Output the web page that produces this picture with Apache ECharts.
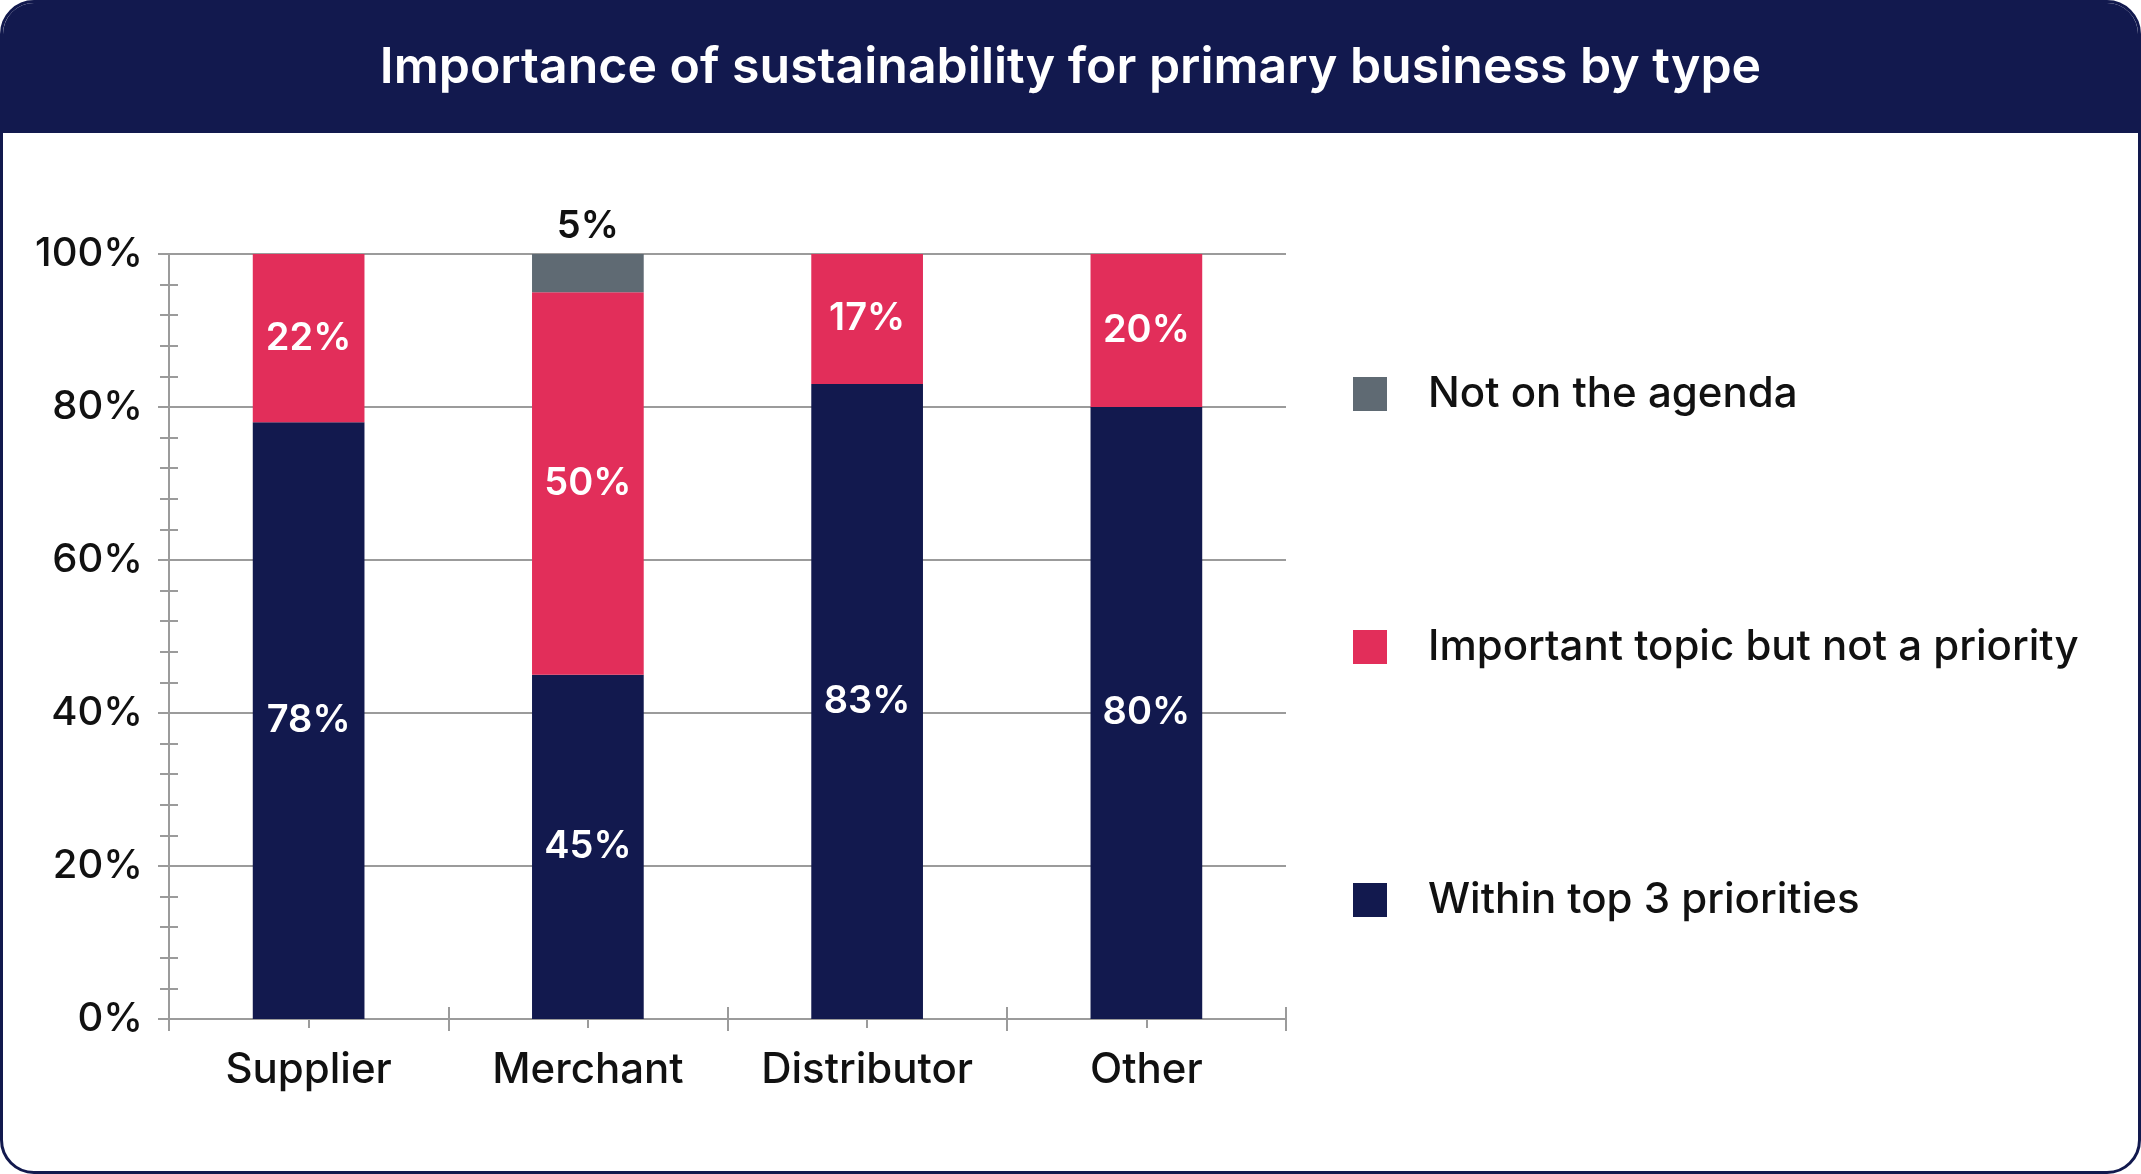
<!DOCTYPE html>
<html>
<head>
<meta charset="utf-8">
<script src="https://cdn.jsdelivr.net/npm/echarts@6/dist/echarts.min.js"></script>
<style>
html,body{margin:0;padding:0;background:#fff;}
#chart{width:2141px;height:1174px;box-sizing:border-box;border:3px solid #12194E;border-radius:34px;overflow:hidden;}
</style>
</head>
<body>
<div id="chart"></div>
<script>
const titleText = 'Importance of sustainability for primary business by type';
const categories = ['Supplier', 'Merchant', 'Distributor', 'Other'];
const withinTop3 = [78, 45, 83, 80];
const importantNotPriority = [22, 50, 17, 20];
const notOnAgenda = [0, 5, 0, 0];
const seriesNames = ['Within top 3 priorities', 'Important topic but not a priority', 'Not on the agenda'];
const legendOrder = ['Not on the agenda', 'Important topic but not a priority', 'Within top 3 priorities'];

const NAVY = '#12194E', RED = '#E22E5A', GREY = '#5F6A73';
const AX = '#9B9B9B';
const FONT = 'Inter, "Noto Sans", sans-serif';

const chart = echarts.init(document.getElementById('chart'));
const pct = p => (p.value ? p.value + '%' : '');

const extraX = (inside, align, len) => ({
  type: 'category', data: categories, gridIndex: 0, position: 'bottom',
  axisLine: { show: false }, axisLabel: { show: false }, splitLine: { show: false },
  axisTick: { show: true, inside: inside, alignWithLabel: align, length: len, lineStyle: { color: AX, width: 2 } }
});

chart.setOption({
  animation: false,
  textStyle: { fontFamily: FONT },
  title: {
    text: titleText, left: 'center', top: 35,
    textStyle: { color: '#fff', fontSize: 50, fontWeight: 600, fontFamily: FONT }
  },
  graphic: [{
    type: 'rect', left: 0, top: 0, z: -1,
    shape: { width: 2141, height: 130 },
    style: { fill: NAVY }
  }],
  legend: {
    orient: 'vertical', left: 1345, top: 365,
    data: legendOrder, icon: 'rect', itemWidth: 34, itemHeight: 34, itemGap: 211,
    selectedMode: false,
    textStyle: { fontSize: 42, lineHeight: 34, color: '#111', fontFamily: FONT, fontWeight: 500, padding: [0, 0, 0, 36] }
  },
  grid: { left: 166, right: 852, top: 251, bottom: 152, containLabel: false },
  xAxis: [
    {
      type: 'category', data: categories,
      axisLine: { lineStyle: { color: AX, width: 2 } },
      axisTick: { show: true, length: 12, lineStyle: { color: AX, width: 2 } },
      axisLabel: { fontSize: 42, color: '#111', margin: 30, fontWeight: 500 }
    },
    extraX(true, false, 12),
    extraX(false, true, 9),
    extraX(true, true, 9)
  ],
  yAxis: [
    {
      type: 'value', min: 0, max: 100, interval: 20,
      axisLine: { show: true, lineStyle: { color: AX, width: 2 } },
      axisTick: { show: true, length: 11, lineStyle: { color: AX, width: 2 } },
      minorTick: { show: true, splitNumber: 5, length: 9, lineStyle: { color: AX, width: 2 } },
      splitLine: { lineStyle: { color: AX, width: 2 } },
      axisLabel: { formatter: '{value}%', fontSize: 40, color: '#111', margin: 26, fontWeight: 500 }
    },
    {
      type: 'value', min: 0, max: 100, interval: 20, position: 'left',
      axisLine: { show: false }, axisLabel: { show: false }, splitLine: { show: false },
      axisTick: { show: false, inside: true },
      minorTick: { show: true, splitNumber: 5, length: 9, lineStyle: { color: AX, width: 2 } }
    }
  ],
  series: [
    {
      name: seriesNames[0], type: 'bar', stack: 'a', data: withinTop3, barWidth: '40%',
      itemStyle: { color: NAVY }, z: 3,
      label: { show: true, position: 'inside', color: '#fff', fontSize: 38, fontWeight: 600, formatter: pct }
    },
    {
      name: seriesNames[1], type: 'bar', stack: 'a', data: importantNotPriority,
      itemStyle: { color: RED }, z: 3,
      label: { show: true, position: 'inside', color: '#fff', fontSize: 38, fontWeight: 600, formatter: pct }
    },
    {
      name: seriesNames[2], type: 'bar', stack: 'a', data: notOnAgenda,
      itemStyle: { color: GREY }, z: 3,
      label: { show: true, position: 'top', distance: 8, color: '#111', fontSize: 38, fontWeight: 600, formatter: pct }
    }
  ]
});
</script>
</body>
</html>
